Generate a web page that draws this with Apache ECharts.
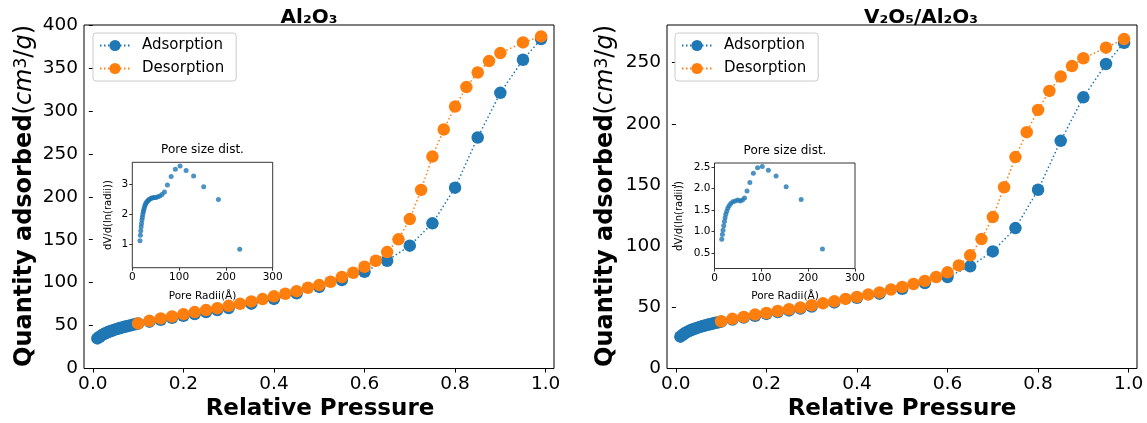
<!DOCTYPE html>
<html><head><meta charset="utf-8">
<script src="https://cdn.jsdelivr.net/npm/echarts@6/dist/echarts.min.js"></script>
<style>html,body{margin:0;padding:0;background:#fff}#c{width:1147px;height:423px}</style>
</head><body><div id="c"></div>
<script>
// ---------------- data ----------------
const titles = ['Al\u2082O\u2083', 'V\u2082O\u2085/Al\u2082O\u2083'];
const seriesNames = ['Adsorption', 'Desorption'];

const adsPressure = [0.01,0.015,0.02,0.025,0.03,0.035,0.04,0.045,0.05,0.055,0.06,0.065,0.07,0.075,0.08,0.085,0.09,0.095,0.1,
  0.125,0.15,0.175,0.2,0.225,0.25,0.275,0.3,0.35,0.4,0.45,0.5,0.55,0.6,0.65,0.7,0.75,0.8,0.85,0.9,0.95,0.99];
const desPressure = [0.99,0.95,0.9,0.875,0.85,0.825,0.8,0.775,0.75,0.725,0.7,0.675,0.65,0.625,0.6,0.575,0.55,0.525,0.5,
  0.475,0.45,0.425,0.4,0.375,0.35,0.325,0.3,0.275,0.25,0.225,0.2,0.175,0.15,0.125,0.1];

const adsAl = [35,37,38.8,40.3,41.6,42.7,43.7,44.6,45.5,46.3,47.1,47.8,48.5,49.2,49.9,50.5,51.1,51.7,52.3,
  54.5,56.8,59,61.3,63.5,65.8,68,70.5,75.5,81,87.5,95,103,112.7,125.5,143,169,210.6,269,321,359.5,383.7];
const desAl = [386.7,379.7,367.3,358,344.7,327.7,305,278.3,246.8,208,174,150.4,135.6,125.5,118.5,111.5,106.5,101,97.1,
  94,90.1,87,84,80.8,78.1,75.3,73,70.3,68,65.7,63.3,60.6,58.3,55.5,52.5];

const adsV = [26,27.5,28.8,29.9,30.8,31.6,32.3,33,33.6,34.2,34.7,35.2,35.7,36.2,36.6,37.1,37.5,37.9,38.3,
  40,41.6,43.1,44.6,46.1,47.5,49,50.6,54,57.8,61.2,65.2,69.8,74.8,83.5,95.7,114.8,146.1,186.1,221.7,248.9,266.3];
const desV = [269.3,262.3,253.6,247.2,238.6,226.9,211.4,193.2,172.8,148.2,123.8,105.8,92.5,84.3,78.6,74.8,71.6,69.1,66.7,
  64.5,62.2,60.4,58.5,56.9,54.9,53.3,51.7,49.8,48.4,47.0,45.4,44.1,42.2,40.6,38.6];

const poreRadiiAl = [16.5,17.3,18.1,18.9,19.7,20.6,21.5,22.4,23.4,24.4,25.5,26.7,28,29.4,31,32.7,34.6,36.7,39,41.5,44.3,
  47.4,50.8,54.6,58.8,63.5,68.7,75,83,92,102,115,131,152.5,184,229.5];
const poreDistAl = [1.11,1.29,1.44,1.58,1.69,1.80,1.90,1.99,2.07,2.14,2.21,2.27,2.32,2.37,2.41,2.44,2.47,2.50,2.52,2.54,2.55,
  2.56,2.56,2.58,2.61,2.66,2.74,2.98,3.26,3.50,3.61,3.46,3.28,2.92,2.49,0.82];
const poreRadiiV = [15.5,16.8,18.2,19.7,21.2,22.6,24.1,26.2,28.4,31.2,34.8,39.2,44.3,49.6,54.7,59.7,64.1,69.4,75.5,83,92,
  102,115,131.5,153,185,230.5];
const poreDistV = [0.82,0.93,1.03,1.13,1.23,1.32,1.40,1.47,1.54,1.60,1.65,1.69,1.71,1.73,1.71,1.73,1.78,1.94,2.14,2.35,2.48,
  2.51,2.42,2.29,2.04,1.74,0.59];

const xTicks = [0, 0.2, 0.4, 0.6, 0.8, 1.0];
const xTickLabels = ['0.0','0.2','0.4','0.6','0.8','1.0'];
const yTicksAl = [0,50,100,150,200,250,300,350,400];
const yTicksV = [0,50,100,150,200,250];
const insetXTicks = [0,100,200,300];
const insetYTicksAl = [1,2,3];
const insetYTicksV = [0.5,1.0,1.5,2.0,2.5];
const insetYTickLabelsV = ['0.5','1.0','1.5','2.0','2.5'];

// ---------------- chart ----------------
const FONT = 'DejaVu Sans';
const BLUE = '#1f77b4', ORANGE = '#ff7f0e';
const zip = (xs, ys) => xs.map((x, i) => [x, ys[i]]);

const grids = [
  {left: 84, top: 25, width: 470, height: 343.5},
  {left: 667, top: 25, width: 470, height: 343.5},
  {left: 132.3, top: 162.3, width: 140.4, height: 105.4},
  {left: 714.5, top: 163, width: 140.5, height: 105.5}
].map((g, i) => Object.assign(g, {
  show: true, borderColor: '#000', borderWidth: i < 2 ? 1 : 0.8,
  backgroundColor: i < 2 ? 'transparent' : '#fff', containLabel: false, outerBoundsMode: 'none', z: i < 2 ? 0 : 5
}));

function mainX(gi) {
  return {type: 'value', gridIndex: gi, min: -0.0195, max: 1.0185,
    axisLine: {show: false}, splitLine: {show: false},
    axisTick: {show: true, length: 4, customValues: xTicks, lineStyle: {color: '#000', width: 1}},
    axisLabel: {customValues: xTicks, formatter: v => xTickLabels[xTicks.findIndex(t => Math.abs(t - v) < 1e-9)],
      fontSize: 18.5, color: '#000', fontFamily: FONT, margin: 6}};
}
function mainY(gi, max, ticks) {
  return {type: 'value', gridIndex: gi, min: 0, max: max,
    axisLine: {show: false}, splitLine: {show: false},
    axisTick: {show: true, length: 4, customValues: ticks, lineStyle: {color: '#000', width: 1}},
    axisLabel: {customValues: ticks, formatter: v => String(v), fontSize: 18.5, color: '#000', fontFamily: FONT, margin: 6}};
}
function insetX(gi) {
  return {type: 'value', gridIndex: gi, min: 0, max: 300,
    axisLine: {show: false}, splitLine: {show: false},
    axisTick: {show: true, length: 3, customValues: insetXTicks, lineStyle: {color: '#000', width: 0.8}},
    axisLabel: {customValues: insetXTicks, formatter: v => String(v), fontSize: 10.5, color: '#000', fontFamily: FONT, margin: 4}};
}
function insetY(gi, min, max, ticks, labels) {
  return {type: 'value', gridIndex: gi, min: min, max: max,
    axisLine: {show: false}, splitLine: {show: false},
    axisTick: {show: true, length: 3, customValues: ticks, lineStyle: {color: '#000', width: 0.8}},
    axisLabel: {customValues: ticks, formatter: v => labels ? labels[ticks.findIndex(t => Math.abs(t - v) < 1e-9)] : String(v),
      fontSize: 10.5, color: '#000', fontFamily: FONT, margin: 4}};
}

function lineSeries(name, gi, data, color) {
  return {type: 'line', name: name, xAxisIndex: gi, yAxisIndex: gi, data: data,
    symbol: 'circle', symbolSize: 12.5, showSymbol: true, showAllSymbol: true,
    itemStyle: {color: color}, lineStyle: {color: color, width: 1.5, type: [1.5, 2.5]},
    emphasis: {disabled: true}, z: 2};
}
function scatterSeries(gi, data) {
  return {type: 'scatter', xAxisIndex: gi, yAxisIndex: gi, data: data, symbolSize: 5,
    itemStyle: {color: BLUE}, z: 10, emphasis: {disabled: true}};
}

function legend(left) {
  return {left: left, top: 33, orient: 'vertical', data: seriesNames, itemWidth: 30, itemHeight: 14, itemGap: 8,
    padding: [5, 12, 5, 6], borderColor: '#cccccc', borderWidth: 1, borderRadius: 3,
    backgroundColor: 'rgba(255,255,255,0.8)', selectedMode: false,
    textStyle: {fontSize: 15, fontFamily: FONT, color: '#000', padding: [0, 0, 0, 7]}};
}

function txt(x, y, text, size, weight, rot) {
  return {type: 'text', x: x, y: y, rotation: rot || 0, z: 100,
    style: {text: text, fontSize: size, fontWeight: weight || 'normal', fontFamily: FONT, fill: '#000',
      align: 'center', verticalAlign: 'middle'}};
}
function yLabel(x) {
  return {type: 'text', x: x, y: 196, rotation: Math.PI / 2, z: 100,
    style: {text: '{b|Quantity adsorbed}{n|(}{i|cm}{s|3}{n|/}{i|g}{n|)}', align: 'center', verticalAlign: 'middle', fill: '#000',
      rich: {
        b: {fontSize: 24, fontWeight: 'bold', fontFamily: FONT, fill: '#000'},
        n: {fontSize: 24, fontFamily: FONT, fill: '#000'},
        i: {fontSize: 24, fontStyle: 'italic', fontFamily: FONT, fill: '#000'},
        s: {fontSize: 17, fontFamily: FONT, fill: '#000', verticalAlign: 'top'}
      }}};
}

const option = {
  animation: false,
  backgroundColor: '#fff',
  grid: grids,
  xAxis: [mainX(0), mainX(1), insetX(2), insetX(3)],
  yAxis: [mainY(0, 400, yTicksAl), mainY(1, 280.8, yTicksV),
          insetY(2, 0.206, 3.737, insetYTicksAl, null), insetY(3, 0.14, 2.59, insetYTicksV, insetYTickLabelsV)],
  legend: [legend(93), legend(675)],
  series: [
    lineSeries(seriesNames[0], 0, zip(adsPressure, adsAl), BLUE),
    lineSeries(seriesNames[1], 0, zip(desPressure, desAl), ORANGE),
    lineSeries(seriesNames[0], 1, zip(adsPressure, adsV), BLUE),
    lineSeries(seriesNames[1], 1, zip(desPressure, desV), ORANGE),
    scatterSeries(2, zip(poreRadiiAl, poreDistAl)),
    scatterSeries(3, zip(poreRadiiV, poreDistV))
  ],
  graphic: [
    txt(309, 18, titles[0], 20, 'bold'),
    txt(921, 18, titles[1], 20, 'bold'),
    yLabel(25), yLabel(606),
    txt(320, 409, 'Relative Pressure', 23, 'bold'),
    txt(902, 409, 'Relative Pressure', 23, 'bold'),
    txt(202.5, 150, 'Pore size dist.', 12),
    txt(785, 151, 'Pore size dist.', 12),
    txt(108, 215, 'dV/d(ln(radii))', 10, 'normal', Math.PI / 2),
    txt(679, 216, 'dV/d(ln(radii))', 10, 'normal', Math.PI / 2),
    txt(202.5, 296, 'Pore Radii(\u00c5)', 10.5),
    txt(785, 296, 'Pore Radii(\u00c5)', 10.5)
  ]
};
const chart = echarts.init(document.getElementById('c'), null, {renderer: 'canvas'});
chart.setOption(option);
</script></body></html>
